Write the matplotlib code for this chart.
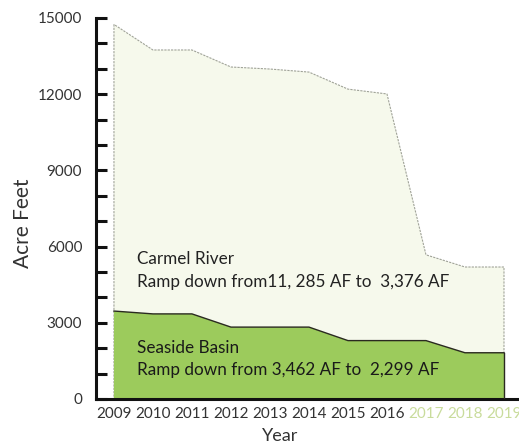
import matplotlib
matplotlib.use("Agg")
import matplotlib.pyplot as plt

years = [2009, 2010, 2011, 2012, 2013, 2014, 2015, 2016, 2017, 2018, 2019]
seaside = [3462, 3350, 3350, 2830, 2830, 2830, 2299, 2299, 2299, 1820, 1820]
carmel = [11285, 10390, 10390, 10240, 10160, 10040, 9900, 9710, 3376, 3376, 3376]
projected_years = [2017, 2018, 2019]
y_ticks = [0, 3000, 6000, 9000, 12000, 15000]

plt.rcParams['font.family'] = ['Lato', 'DejaVu Sans']

fig = plt.figure(figsize=(5.19, 4.45), dpi=100)
ax = fig.add_axes([0.185, 0.1034, 0.815, 0.8562])

total = [s + c for s, c in zip(seaside, carmel)]
ax.fill_between(years, 0, total, facecolor='#f6f9ec', edgecolor='#a0a398',
                linewidth=0.8, linestyle=(0, (2, 1)), zorder=1)
ax.fill_between(years, 0, seaside, facecolor='#9ccb5c', edgecolor='none', zorder=2)
ax.plot(years, seaside, color='#2a2a20', linewidth=1.0, zorder=3)
ax.plot([years[-1], years[-1]], [0, seaside[-1]], color='#2a2a20', linewidth=1.0, zorder=3)

ax.set_xlim(2008.54, 2019.385)
ax.set_ylim(0, 15000)

for s in ['top', 'right']:
    ax.spines[s].set_visible(False)
for s in ['left', 'bottom']:
    ax.spines[s].set_linewidth(2.2)
    ax.spines[s].set_color('#111111')
ax.spines['left'].set_zorder(5)

ax.set_yticks(y_ticks)
ax.set_yticks(range(0, 15001, 1000), minor=True)
ax.tick_params(axis='y', which='both', direction='in', length=8, width=2.2,
               color='#111111', labelsize=11, labelcolor='#333333', pad=10)
ax.set_xticks(years)
ax.set_xticklabels([str(y) for y in years])
ax.tick_params(axis='x', length=0, labelsize=11, labelcolor='#333333', pad=6)
for lbl, y in zip(ax.get_xticklabels(), years):
    if y in projected_years:
        lbl.set_color('#c9dc9c')

ax.set_ylabel('Acre Feet', fontsize=15, color='#333333')
ax.yaxis.set_label_coords(-0.15, 0.46)
ax.set_xlabel('Year', fontsize=13, color='#333333')
ax.xaxis.set_label_coords(0.435, -0.075)

ax.text(2009.58, 5500, 'Carmel River', fontsize=12.3, color='#222222', va='center', zorder=4)
ax.text(2009.58, 4600, 'Ramp down from11, 285 AF to  3,376 AF', fontsize=12.3,
        color='#222222', va='center', zorder=4)
ax.text(2009.58, 2000, 'Seaside Basin', fontsize=12.3, color='#1a1a1a', va='center', zorder=4)
ax.text(2009.58, 1130, 'Ramp down from 3,462 AF to  2,299 AF', fontsize=12.3,
        color='#1a1a1a', va='center', zorder=4)

fig.savefig('out.png', dpi=100)
